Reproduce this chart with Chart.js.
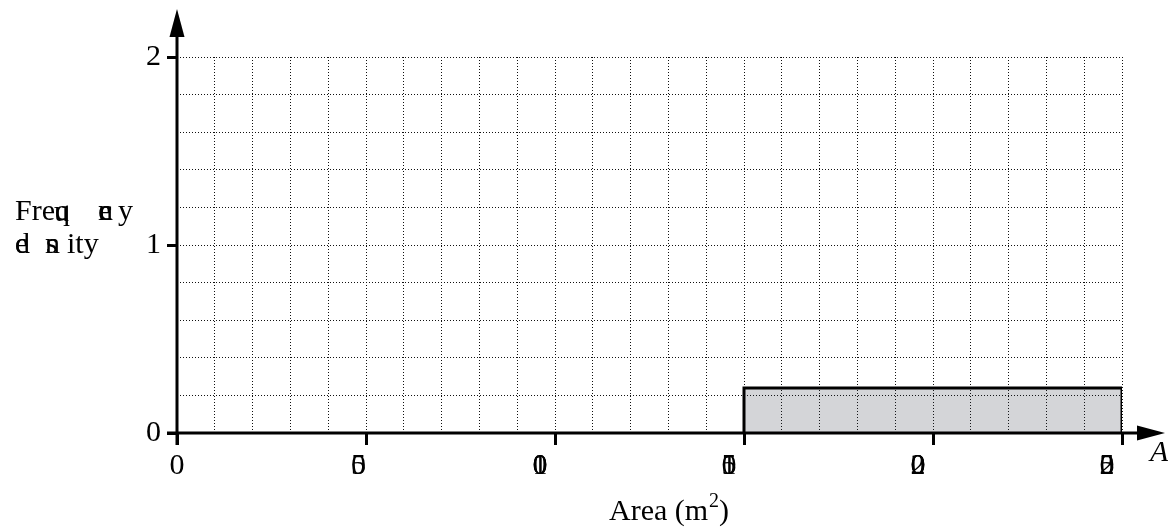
<!DOCTYPE html>
<html>
<head>
<meta charset="utf-8">
<script src="https://cdn.jsdelivr.net/npm/chart.js@4"></script>
<style>
  html, body { margin: 0; padding: 0; background: #fff; }
  #wrap { width: 1168px; height: 529px; }
</style>
</head>
<body>
<div id="wrap"><canvas id="chart" width="1168" height="529"></canvas></div>
<script>
// histogram data
const xTicks = [0, 50, 100, 150, 200, 250];
const yTicks = [0, 1, 2];
const classStart = [150];
const classEnd = [250];
const density = [0.24];

const FONT = "'Liberation Serif', 'Times New Roman', serif";

// outline of each bar, built from the class arrays
const outline = [];
classStart.forEach((s, i) => {
  outline.push({ x: s, y: 0 }, { x: s, y: density[i] }, { x: classEnd[i], y: density[i] }, { x: classEnd[i], y: 0 });
});

const isMajorX = v => xTicks.includes(v);
const isMajorY = v => yTicks.some(t => Math.abs(t - v) < 1e-9);

// axes with arrows, tick labels and titles drawn on top
const axesPlugin = {
  id: 'axes',
  afterDatasetsDraw(chart) {
    const ctx = chart.ctx;
    const xs = chart.scales.x, ys = chart.scales.y;
    const x0 = xs.getPixelForValue(0);
    const y0 = ys.getPixelForValue(0);
    const top = chart.chartArea.top, right = chart.chartArea.right;
    ctx.save();
    ctx.strokeStyle = '#000';
    ctx.fillStyle = '#000';
    ctx.lineWidth = 3;

    // y axis + arrow
    ctx.beginPath();
    ctx.moveTo(x0, y0 + 12);
    ctx.lineTo(x0, top - 22);
    ctx.stroke();
    ctx.beginPath();
    ctx.moveTo(x0, top - 48);
    ctx.lineTo(x0 - 7.5, top - 20);
    ctx.lineTo(x0 + 7.5, top - 20);
    ctx.closePath();
    ctx.fill();

    // x axis + arrow
    ctx.beginPath();
    ctx.moveTo(x0 - 10, y0);
    ctx.lineTo(right + 17, y0);
    ctx.stroke();
    ctx.beginPath();
    ctx.moveTo(right + 43, y0);
    ctx.lineTo(right + 15, y0 - 7.5);
    ctx.lineTo(right + 15, y0 + 7.5);
    ctx.closePath();
    ctx.fill();

    ctx.textBaseline = 'alphabetic';
    ctx.textAlign = 'left';

    // x tick labels (glyphs stacked at the start of each label)
    ctx.font = '30px ' + FONT;
    xTicks.forEach(v => {
      const s = String(v);
      const w = ctx.measureText(s).width;
      const left = xs.getPixelForValue(v) - w / 2;
      for (const ch of s) ctx.fillText(ch, left, y0 + 41);
    });

    // axis letter
    ctx.font = 'italic 30px ' + FONT;
    ctx.fillText('A', right + 28, y0 + 28);

    // x title
    ctx.font = '30px ' + FONT;
    ctx.fillText('Area (m', 609, 520);
    const wA = ctx.measureText('Area (m').width;
    ctx.font = '20px ' + FONT;
    ctx.fillText('2', 609 + wA + 1, 507);
    const w2 = ctx.measureText('2').width;
    ctx.font = '30px ' + FONT;
    ctx.fillText(')', 609 + wA + 1 + w2, 520);

    // y title
    const wFre = ctx.measureText('Fre').width;
    ctx.fillText('Freq', 15, 220);
    ctx.fillText('u', 15 + wFre - 1, 221);
    ctx.fillText('e', 98, 220);
    ctx.fillText('n', 98, 220);
    ctx.fillText('c', 99, 220);
    ctx.fillText('y', 118, 220);
    ctx.fillText('d', 15, 253);
    ctx.fillText('e', 15, 253);
    ctx.fillText('n', 45, 253);
    ctx.fillText('s', 46, 253);
    ctx.fillText('ity', 67, 253);
    ctx.restore();
  }
};

new Chart(document.getElementById('chart'), {
  type: 'line',
  data: {
    datasets: [{
      data: outline,
      fill: 'origin',
      backgroundColor: 'rgba(40, 45, 60, 0.2)',
      borderColor: '#000',
      borderWidth: 3,
      pointRadius: 0,
      tension: 0
    }]
  },
  options: {
    responsive: false,
    animation: false,
    layout: { padding: { top: 57, right: 46, left: 0, bottom: 0 } },
    plugins: { legend: { display: false }, tooltip: { enabled: false } },
    scales: {
      x: {
        type: 'linear',
        min: 0,
        max: 250,
        afterFit(scale) { scale.height = 96; },
        ticks: { stepSize: 10, autoSkip: false, maxRotation: 0, callback: () => '' },
        grid: {
          color: '#111',
          lineWidth: 1,
          tickLength: 12,
          tickWidth: 3,
          tickColor: c => (c.tick && isMajorX(c.tick.value) ? '#000' : 'rgba(0,0,0,0)')
        },
        border: { display: false, dash: [1, 2] }
      },
      y: {
        min: 0,
        max: 2,
        afterFit(scale) { scale.width = 177; },
        ticks: {
          stepSize: 0.2,
          autoSkip: false,
          padding: 6,
          color: '#000',
          font: { family: FONT, size: 30 },
          callback: v => (isMajorY(v) ? String(Math.round(v)) : '')
        },
        grid: {
          color: '#111',
          lineWidth: 1,
          tickLength: 10,
          tickWidth: 3,
          tickColor: c => (c.tick && isMajorY(c.tick.value) ? '#000' : 'rgba(0,0,0,0)')
        },
        border: { display: false, dash: [1, 2] }
      }
    }
  },
  plugins: [axesPlugin]
});
</script>
</body>
</html>
